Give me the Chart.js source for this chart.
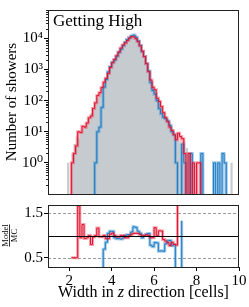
<!DOCTYPE html>
<html>
<head>
<meta charset="utf-8">
<script src="https://cdn.jsdelivr.net/npm/chart.js@4.4.0/dist/chart.umd.min.js"></script>
<style>
  html, body { margin: 0; padding: 0; background: #fff; }
  #wrap { position: relative; width: 249px; height: 307px; overflow: hidden; }
  #top { position: absolute; left: 0; top: 0; }
  #bot { position: absolute; left: 0; top: 195px; }
</style>
</head>
<body>
<div id="wrap">
  <canvas id="top" width="249" height="204" style="width:249px;height:204px"></canvas>
  <canvas id="bot" width="249" height="112" style="width:249px;height:112px"></canvas>
</div>
<script>
// histogram bins: 0.1 cells wide, first bin starts at 1.8
const binStart = 1.8;
const binWidth = 0.1;

// MC reference (grey filled)
const mcCounts = [
  0, 1, 0, 2, 4, 7, 6, 10, 12, 15,
  20, 28, 40, 58, 85, 125, 185, 270, 390, 560,
  800, 1120, 1550, 2100, 2850, 3750, 4850, 6100, 7500, 8900,
  10200, 11000, 10600, 9300, 7500, 5600, 3900, 2600, 1500, 850,
  480, 280, 190, 120, 85, 58, 45, 32, 25, 18,
  13, 10, 7, 5, 4, 3, 0, 3, 0, 0,
  0, 0, 0, 0, 0, 0, 0, 0, 0, 0,
  0, 0, 0, 0, 0, 0, 0, 0, 1, 0, 0
];
// model (red)
const redCounts = [
  0, 0, 0, 1, 2, 3.5, 10, 9.5, 15, 14,
  19, 28, 32, 56, 85, 146, 180, 262, 390, 520,
  744, 1150, 1640, 2100, 2760, 3640, 4850, 6100, 7125, 8455,
  10200, 11330, 11130, 9765, 7875, 5712, 3900, 2600, 1530, 850,
  456, 266, 224, 120, 94, 64, 41, 28, 21, 14,
  11, 8, 5.5, 9, 7, 6, 2, 0, 2, 0,
  1, 0, 1, 1, 0, 0, 0, 0, 0, 0,
  0, 0, 0, 0, 0, 0, 0, 0, 0, 0, 0
];
// model (blue)
const blueCounts = [
  0, 0, 0, 0, 0, 0, 0, 0, 0, 0,
  0, 0, 0, 0, 1, 10, 14, 60, 270, 475,
  840, 1230, 1700, 2000, 2650, 3490, 4460, 5800, 7500, 9080,
  10400, 11900, 12700, 11000, 8250, 5880, 3700, 2600, 1545, 890,
  375, 210, 160, 100, 55, 38, 29, 26, 22, 16,
  10, 8, 1, 0, 0, 4, 1, 0, 0, 2,
  0, 0, 0, 0, 2, 0, 0, 0, 0, 0,
  1, 0, 1, 0, 2, 1, 0, 0, 0, 0, 0
];

const yTicks = [1, 10, 100, 1000, 10000];
const yTickLabels = ['10⁰', '10¹', '10²', '10³', '10⁴'];
const ratioTicks = [0.5, 1.5];
const xTicks = [2, 4, 6, 8, 10];

const RED = '#e0112e', RED_LIGHT = 'rgba(238,90,110,0.55)';
const BLUE = '#1f78c1', BLUE_LIGHT = 'rgba(80,160,215,0.55)';
const GREY = '#c6cbcf';
const SERIF = "'Liberation Serif', 'DejaVu Serif', serif";
const LOG_FLOOR = 0.001; // empty bins drawn below the visible range (log axis can't show 0)

Chart.defaults.font.family = SERIF;
Chart.defaults.color = '#000';

function steps(vals, floor) {
  const fix = v => (floor && v === 0) ? floor : v;
  const pts = vals.map((v, i) => ({ x: +(binStart + i * binWidth).toFixed(2), y: fix(v) }));
  pts.push({ x: +(binStart + vals.length * binWidth).toFixed(2), y: fix(vals[vals.length - 1]) });
  return pts;
}
function ratioOf(model) {
  return model.map((m, i) => mcCounts[i] > 0 ? m / mcCounts[i] : null);
}

function stepLine(vals, color, width, extra, floor) {
  return Object.assign({
    data: steps(vals, floor), stepped: 'before', borderColor: color, borderWidth: width,
    pointRadius: 0, fill: false, spanGaps: false
  }, extra || {});
}

// frame + minor ticks + in-plot label
const framePlugin = {
  id: 'frame',
  afterDatasetsDraw(chart, args, opts) {
    const { ctx, chartArea: a } = chart;
    ctx.save();
    if (opts.refLines) {
      const ys = chart.scales.y;
      ctx.strokeStyle = '#000';
      ctx.lineWidth = 1;
      const py = Math.round(ys.getPixelForValue(1)) + 0.5;
      ctx.beginPath(); ctx.moveTo(a.left, py); ctx.lineTo(a.right, py); ctx.stroke();
    }
    ctx.strokeStyle = '#222';
    ctx.lineWidth = 1;
    ctx.strokeRect(a.left + 0.5, a.top + 0.5, a.right - a.left - 1, a.bottom - a.top);
    if (opts.minorLog) {
      const ys = chart.scales.y;
      ctx.beginPath();
      for (let d = -1; d <= 4; d++) {
        for (let k = 2; k <= 9; k++) {
          const v = k * Math.pow(10, d);
          if (v < ys.min || v > ys.max) continue;
          const py = Math.round(ys.getPixelForValue(v)) + 0.5;
          ctx.moveTo(a.left - 2, py); ctx.lineTo(a.left, py);
        }
      }
      ctx.stroke();
    }
    if (opts.label) {
      ctx.fillStyle = '#000';
      ctx.font = '17px ' + SERIF;
      ctx.textBaseline = 'alphabetic';
      ctx.fillText(opts.label, a.left + 5, a.top + 16);
    }
    ctx.restore();
  },
  beforeDatasetsDraw(chart, args, opts) {
    if (!opts.refLines) return;
    const { ctx, chartArea: a } = chart;
    const ys = chart.scales.y;
    ctx.save();
    ctx.strokeStyle = '#9a9a9a';
    ctx.lineWidth = 1;
    ctx.setLineDash([3, 2]);
    for (const v of ratioTicks) {
      const py = Math.round(ys.getPixelForValue(v)) + 0.5;
      ctx.beginPath(); ctx.moveTo(a.left, py); ctx.lineTo(a.right, py); ctx.stroke();
    }
    ctx.restore();
  }
};

// axis titles for the ratio panel (fraction + italic z)
const titlesPlugin = {
  id: 'titles',
  afterDraw(chart) {
    const { ctx, chartArea: a } = chart;
    ctx.save();
    ctx.fillStyle = '#000';
    const yc = chart.scales.y.getPixelForValue(1);
    ctx.translate(10, yc);
    ctx.rotate(-Math.PI / 2);
    ctx.font = '8.5px ' + SERIF;
    ctx.textAlign = 'center';
    ctx.fillText('Model', 0, -2);
    ctx.fillText('MC', 0, 7);
    const w = ctx.measureText('Model').width;
    ctx.fillRect(-w / 2, -1, w, 0.8);
    ctx.setTransform(1, 0, 0, 1, 0, 0);
    const parts = [['Width in ', '16px '], ['z', 'italic 16px '], [' direction [cells]', '16px ']];
    let total = 0;
    for (const p of parts) { ctx.font = p[1] + SERIF; total += ctx.measureText(p[0]).width; }
    let x = (a.left + a.right) / 2 - total / 2;
    ctx.textAlign = 'left';
    for (const p of parts) {
      ctx.font = p[1] + SERIF;
      ctx.fillText(p[0], x, 102);
      x += ctx.measureText(p[0]).width;
    }
    ctx.restore();
  }
};

new Chart(document.getElementById('top'), {
  type: 'line',
  data: {
    datasets: [
      stepLine(redCounts, RED, 1, { order: 1 }, LOG_FLOOR),
      stepLine(blueCounts, BLUE, 1, { order: 2 }, LOG_FLOOR),
      stepLine(redCounts, RED_LIGHT, 3, { order: 3 }, LOG_FLOOR),
      stepLine(blueCounts, BLUE_LIGHT, 3, { order: 4 }, LOG_FLOOR),
      stepLine(mcCounts, 'rgba(0,0,0,0)', 0, { order: 5, fill: 'start', backgroundColor: GREY }, LOG_FLOOR),
      stepLine(redCounts, 'rgba(0,0,0,0)', 0, { order: 6, fill: 'start', backgroundColor: 'rgba(240,130,145,0.35)' }, LOG_FLOOR),
      stepLine(blueCounts, 'rgba(0,0,0,0)', 0, { order: 7, fill: 'start', backgroundColor: 'rgba(110,175,225,0.35)' }, LOG_FLOOR)
    ]
  },
  options: {
    responsive: false,
    animation: false,
    layout: { padding: { left: 0, right: 10, top: 2, bottom: 4 } },
    plugins: {
      legend: { display: false },
      tooltip: { enabled: false },
      frame: { minorLog: true, label: 'Getting High' }
    },
    scales: {
      x: { type: 'linear', min: 1, max: 10, display: false },
      y: {
        type: 'logarithmic', min: 0.1, max: 81000,
        afterBuildTicks: s => { s.ticks = yTicks.map(v => ({ value: v, major: true })); },
        afterFit: s => { s.width = 48; },
        ticks: {
          font: { size: 15 }, padding: 1,
          callback: v => yTickLabels[yTicks.indexOf(v)]
        },
        grid: { drawOnChartArea: false, tickLength: 4, tickColor: '#000' },
        border: { color: '#222' },
        title: { display: true, text: 'Number of showers', font: { size: 15 }, padding: { top: 3, bottom: 0 } }
      }
    }
  },
  plugins: [framePlugin]
});

new Chart(document.getElementById('bot'), {
  type: 'line',
  data: {
    datasets: [
      stepLine(ratioOf(redCounts), RED, 1, { order: 1 }),
      stepLine(ratioOf(blueCounts), BLUE, 1, { order: 2 }),
      stepLine(ratioOf(redCounts), RED_LIGHT, 3, { order: 3 }),
      stepLine(ratioOf(blueCounts), BLUE_LIGHT, 3, { order: 4 })
    ]
  },
  options: {
    responsive: false,
    animation: false,
    layout: { padding: { left: 0, right: 10, top: 5, bottom: 0 } },
    plugins: {
      legend: { display: false },
      tooltip: { enabled: false },
      frame: { refLines: true }
    },
    scales: {
      x: {
        type: 'linear', min: 1, max: 10,
        afterBuildTicks: s => { s.ticks = xTicks.map(v => ({ value: v })); },
        afterFit: s => { s.height = 40; },
        ticks: { font: { size: 15 }, padding: 1, maxRotation: 0 },
        grid: { drawOnChartArea: false, tickLength: 4, tickColor: '#000' },
        border: { color: '#222' }
      },
      y: {
        type: 'linear', min: 0.29, max: 1.69,
        afterBuildTicks: s => { s.ticks = ratioTicks.map(v => ({ value: v })); },
        afterFit: s => { s.width = 48; },
        ticks: { font: { size: 15 }, padding: 1, callback: v => v.toFixed(1) },
        grid: { drawOnChartArea: false, tickLength: 4, tickColor: '#000' },
        border: { color: '#222' }
      }
    }
  },
  plugins: [framePlugin, titlesPlugin]
});
</script>
</body>
</html>
